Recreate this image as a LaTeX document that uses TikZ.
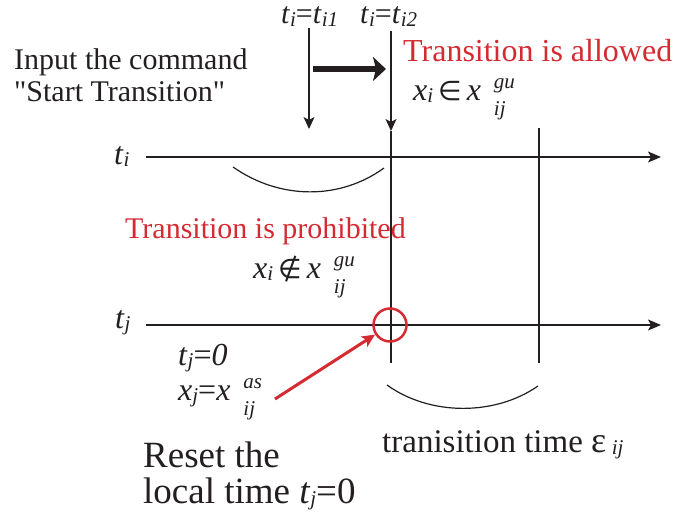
\documentclass[tikz,border=0pt]{standalone}
\usepackage{fontspec}
\setmainfont{Liberation Serif}
\newfontfamily\symfont{DejaVu Sans}
\usetikzlibrary{arrows.meta}

\definecolor{allowred}{HTML}{D42A32}
\definecolor{inkgray}{HTML}{231F20}

\newcommand{\fsz}[1]{\fontsize{#1}{#1}\selectfont}
\newcommand{\lowi}[1]{\raisebox{-2pt}{\fsz{21}\itshape #1}}
\newcommand{\gusub}[2]{\kern13pt\rlap{\raisebox{12pt}{\fsz{21}\itshape #1}}\raisebox{-15pt}{\fsz{21}\itshape #2}}
\newcommand{\rel}[1]{\kern5pt{\symfont\fsz{27}#1}\kern5pt}

\begin{document}
\begin{tikzpicture}[x=1pt, y=-1pt,
    lbl/.style={anchor=base west, inner sep=0pt, text=inkgray, font=\fsz{30}},
    redlbl/.style={lbl, text=allowred},
    axis/.style={-{Stealth[length=13pt, width=11pt, inset=3pt]}, line width=1.3pt, inkgray},
    marker/.style={line width=1.1pt, inkgray},
    drop/.style={marker, -{Stealth[length=12pt, width=11pt, inset=3pt]}},
    span/.style={line width=1.2pt, inkgray},
    resetmark/.style={circle, draw=allowred, line width=2.5pt, minimum size=33pt, inner sep=0pt},
    resetarrow/.style={-{Stealth[length=13pt, width=12pt, inset=3pt]}, line width=3pt, allowred},
]
\useasboundingbox (0,0) rectangle (685,519);

% --- Time axes ---
\coordinate (tiS) at (146,157);
\coordinate (tiE) at (661,157);
\coordinate (tjS) at (146,325);
\coordinate (tjE) at (661,325);
\draw[axis] (tiS) -- (tiE);
\draw[axis] (tjS) -- (tjE);
\node[lbl, font=\fsz{32}] (tiLbl) at (114,164) {\textit{t}\lowi{i}};
\node[lbl, font=\fsz{32}] (tjLbl) at (115,328) {\textit{t}\lowi{j}};

% --- Vertical markers ---
\coordinate (v1top) at (309,28);
\coordinate (v1bot) at (309,129);
\coordinate (v2top) at (391,31);
\coordinate (v2mid) at (391,131);
\coordinate (v2bot) at (391,363);
\coordinate (v3top) at (539,128);
\coordinate (v3bot) at (539,363);
\draw[drop] (v1top) -- (v1bot);
\draw[drop] (v2top) -- (v2mid);
\draw[marker] (v2mid) -- (v2bot);
\draw[marker] (v3top) -- (v3bot);

% --- Moving from ti1 to ti2 ---
\coordinate (mvS) at (313,69);
\coordinate (mvE) at (386,69);
\draw[line width=6pt, inkgray, -{Stealth[length=13pt, width=24pt, inset=3pt]}] (mvS) -- (mvE);
\node[lbl, font=\fsz{30}] (ti1) at (281,24) {\textit{t}\lowi{i}=\textit{t}\lowi{i1}};
\node[lbl, font=\fsz{30}] (ti2) at (360,24) {\textit{t}\lowi{i}=\textit{t}\lowi{i2}};

% --- Command ---
\node[lbl] (cmd) at (14,70) {Input the command};
\node[lbl] (cmd2) at (14,101) {\textquotedbl Start Transition\textquotedbl};

% --- Allowed / prohibited ---
\node[redlbl, font=\fsz{32}] (allow) at (403,62) {Transition is allowed};
\node[lbl, font=\fsz{32}] (inS) at (413,100) {\textit{x}\lowi{i}\rel{∈}\textit{x}\gusub{gu}{ij}};
\node[redlbl] (prohib) at (125,238) {Transition is prohibited};
\node[lbl, font=\fsz{32}] (ninS) at (253,278) {\textit{x}\lowi{i}\rel{∉}\textit{x}\gusub{gu}{ij}};

% --- Spans ---
\coordinate (arc1S) at (233,167);
\coordinate (arc1E) at (384,168);
\draw[span] (arc1S) .. controls (280,200) and (340,200) .. (arc1E);
\coordinate (arc2S) at (387,385);
\coordinate (arc2E) at (538,386);
\draw[span] (arc2S) .. controls (430,416) and (495,416) .. (arc2E);
\node[lbl, font=\fsz{33}] (ttime) at (382,452) {tranisition time {\fsz{36}ε}\,\lowi{ij}};

% --- Reset of local time ---
\node[lbl, font=\fsz{32}] (tj0) at (178,365) {\textit{t}\lowi{j}=\textit{0}};
\node[lbl, font=\fsz{32}] (xjas) at (178,400) {\textit{x}\lowi{j}=\textit{x}\gusub{as}{ij}};
\node[resetmark] (rst) at (390,325) {};
\coordinate (redS) at (275,399);
\draw[resetarrow] (redS) -- (rst);
\node[lbl, font=\fsz{37}] (reset1) at (143,467) {Reset the};
\node[lbl, font=\fsz{37}] (reset2) at (143,503) {local time \textit{t}\lowi{j}=0};

\end{tikzpicture}
\end{document}
